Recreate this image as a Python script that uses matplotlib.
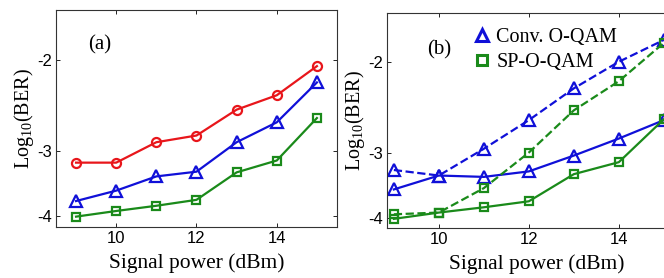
import numpy as np
import matplotlib
matplotlib.use("Agg")
import matplotlib.pyplot as plt
from matplotlib.ticker import FixedLocator, FixedFormatter, NullLocator

power = [9, 10, 11, 12, 13, 14, 15]

# panel (a)
a_red = [-3.16, -3.16, -2.885, -2.80, -2.495, -2.34, -2.055]
a_blue = [-3.75, -3.58, -3.36, -3.29, -2.885, -2.64, -2.21]
a_green = [-4.02, -3.92, -3.83, -3.73, -3.30, -3.13, -2.59]

# panel (b)
b_conv_dash = [-3.23, -3.31, -2.94, -2.59, -2.25, -2.00, -1.816]
b_conv_solid = [-3.52, -3.31, -3.33, -3.25, -3.03, -2.81, -2.59]
b_sp_dash = [-3.93, -3.90, -3.50, -2.99, -2.48, -2.18, -1.84]
b_sp_solid = [-4.01, -3.90, -3.81, -3.71, -3.29, -3.12, -2.58]

yticks = [-4, -3, -2]
xticks = [10, 12, 14]

RED = '#e8161b'
BLUE = '#1010d8'
GREEN = '#1a8a1a'

serif = ['Liberation Serif', 'DejaVu Serif']
sans = ['Liberation Sans', 'DejaVu Sans']

plt.rcParams['mathtext.fontset'] = 'custom'
plt.rcParams['mathtext.rm'] = 'Liberation Serif'

fig = plt.figure(figsize=(6.64, 2.78), dpi=100)
ax1 = fig.add_axes([0.0843, 0.1835, 0.4232, 0.7805])
ax2 = fig.add_axes([0.583, 0.181, 0.4506, 0.773])

fwd = lambda v: -np.log10(-np.asarray(v, dtype=float))
inv = lambda t: -10 ** (-np.asarray(t, dtype=float))

lw = 1.6
mew = 1.6
ms_o, ms_t, ms_s = 6.5, 8.5, 5.5

def style(ax, xlim, ylim):
    ax.set_yscale('function', functions=(fwd, inv))
    ax.set_xlim(*xlim)
    ax.set_ylim(*ylim)
    ax.yaxis.set_major_locator(FixedLocator(yticks))
    ax.yaxis.set_major_formatter(FixedFormatter([str(t) for t in yticks]))
    ax.yaxis.set_minor_locator(NullLocator())
    ax.set_xticks(xticks)
    ax.set_xticklabels([str(t) for t in xticks])
    ax.tick_params(direction='in', top=True, right=True, length=3, width=0.6,
                   labelsize=12, pad=3)
    for lab in ax.get_xticklabels() + ax.get_yticklabels():
        lab.set_family(sans)
    for s in ax.spines.values():
        s.set_linewidth(0.8)
        s.set_color('#333333')
    ax.set_xlabel('Signal power (dBm)', family=serif, fontsize=15.5, labelpad=5)
    ax.set_ylabel('Log$_{10}$(BER)', family=serif, fontsize=14.5, labelpad=1)

# panel (a)
ax1.plot(power, a_red, '-o', color=RED, lw=lw, ms=ms_o, mfc='none', mew=mew)
ax1.plot(power, a_blue, '-^', color=BLUE, lw=lw, ms=ms_t, mfc='none', mew=mew)
ax1.plot(power, a_green, '-s', color=GREEN, lw=lw, ms=ms_s, mfc='none', mew=mew)
style(ax1, (8.5, 15.5), (-4.21, -1.6))
ax1.text(0.114, 0.84, '(a)', transform=ax1.transAxes, family=serif,
         fontsize=15, va='center', ha='left')

# panel (b)
ax2.plot(power, b_conv_dash, '--^', color=BLUE, lw=lw, ms=ms_t, mfc='none', mew=mew)
ax2.plot(power, b_conv_solid, '-^', color=BLUE, lw=lw, ms=ms_t, mfc='none', mew=mew)
ax2.plot(power, b_sp_dash, '--s', color=GREEN, lw=lw, ms=ms_s, mfc='none', mew=mew)
ax2.plot(power, b_sp_solid, '-s', color=GREEN, lw=lw, ms=ms_s, mfc='none', mew=mew)
style(ax2, (8.85, 15.5), (-4.17, -1.61))
ax2.text(0.134, 0.826, '(b)', transform=ax2.transAxes, family=serif,
         fontsize=15, va='center', ha='left')

h1, = ax2.plot([], [], '^', color=BLUE, ms=9, mfc='none', mew=2.2)
h2, = ax2.plot([], [], 's', color=GREEN, ms=7.5, mfc='none', mew=2.2)
leg = ax2.legend([h1, h2], ['Conv. O-QAM', 'SP-O-QAM'], loc='upper left',
                 bbox_to_anchor=(0.25, 0.985), frameon=False, handlelength=0.8,
                 handletextpad=0.3, labelspacing=0.3, borderaxespad=0.2,
                 prop={'family': serif, 'size': 14.5})

fig.savefig('out.png', dpi=100)
